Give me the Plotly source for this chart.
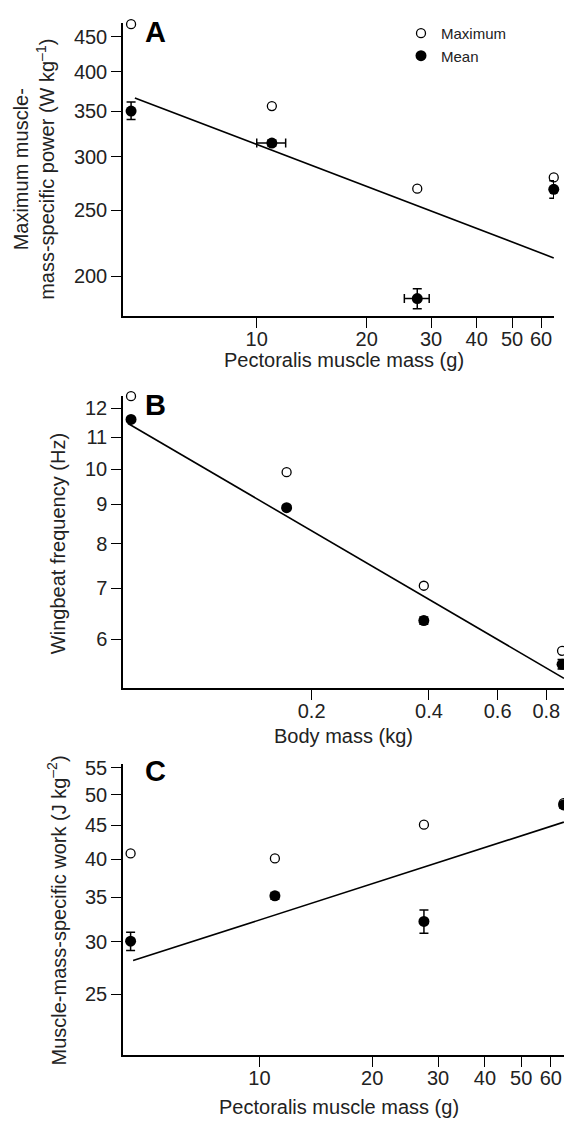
import plotly.graph_objects as go
import math

# ---------------- data ----------------
# Panel A: pectoralis muscle mass (g) vs max muscle-mass-specific power (W/kg)
A_mass = [4.53, 11.0, 27.5, 65.0]
A_max = [470, 356, 269, 279.5]
A_mean = [350, 314, 185.3, 268.4]
A_mean_err_plus = [11, 3, 6.3, 8]
A_mean_err_minus = [10, 3, 6.2, 8]
A_mass_err = [0, 1.0, 2.15, 0]
A_fit_x = [4.64, 65.0]
A_fit_y = [366, 212.7]

# Panel B: body mass (kg) vs wingbeat frequency (Hz)
B_mass = [0.0688, 0.1725, 0.388, 0.878]
B_max = [12.45, 9.91, 7.05, 5.80]
B_mean = [11.61, 8.91, 6.35, 5.57]
B_mean_err = [0.06, 0.06, 0.07, 0.08]
B_fit_x = [0.0676, 0.888]
B_fit_y = [11.47, 5.34]

# Panel C: pectoralis muscle mass (g) vs muscle-mass-specific work (J/kg)
C_mass = [4.53, 11.0, 27.5, 64.9]
C_max = [40.8, 40.1, 45.1, 48.6]
C_mean = [30.06, 35.2, 32.2, 48.3]
C_mean_err = [0.95, 0.4, 1.3, 0.5]
C_fit_x = [4.6, 65.0]
C_fit_y = [28.1, 45.5]

A_xticks = [10, 20, 30, 40, 50, 60]
A_yticks = [200, 250, 300, 350, 400, 450]
B_xticks = [0.2, 0.4, 0.6, 0.8]
B_yticks = [6, 7, 8, 9, 10, 11, 12]
C_xticks = [10, 20, 30, 40, 50, 60]
C_yticks = [25, 30, 35, 40, 45, 50, 55]

# ---------------- layout constants ----------------
W, H = 564, 1121
FONT = "Liberation Sans, Arial, Helvetica, sans-serif"
TICKFS = 20
TITLEFS = 20


def px_x(p):
    return p / W


def px_y(p):
    return 1 - p / H


fig = go.Figure()


def add_panel(n, mass, vmax, vmean, ep, em, ex, fitx, fity):
    xa = "x" if n == 1 else f"x{n}"
    ya = "y" if n == 1 else f"y{n}"
    fig.add_trace(go.Scatter(
        x=fitx, y=fity, mode="lines", xaxis=xa, yaxis=ya,
        line=dict(color="black", width=1.6), showlegend=False,
        hoverinfo="skip", cliponaxis=False))
    err_x = None
    if ex is not None:
        err_x = dict(type="data", array=ex, arrayminus=ex, color="black",
                     thickness=1.5, width=4.5, visible=True)
    fig.add_trace(go.Scatter(
        x=mass, y=vmean, mode="markers", xaxis=xa, yaxis=ya, name="Mean",
        marker=dict(symbol="circle", size=11, color="black",
                    line=dict(color="black", width=0)),
        error_y=dict(type="data", array=ep, arrayminus=em, color="black",
                     thickness=1.5, width=4.5),
        error_x=err_x,
        showlegend=False, cliponaxis=False))
    fig.add_trace(go.Scatter(
        x=mass, y=vmax, mode="markers", xaxis=xa, yaxis=ya, name="Maximum",
        marker=dict(symbol="circle-open", size=9, color="black",
                    line=dict(color="black", width=1.3)),
        showlegend=False, cliponaxis=False))


add_panel(1, A_mass, A_max, A_mean, A_mean_err_plus, A_mean_err_minus,
          A_mass_err, A_fit_x, A_fit_y)
add_panel(2, B_mass, B_max, B_mean, B_mean_err, B_mean_err, None,
          B_fit_x, B_fit_y)
add_panel(3, C_mass, C_max, C_mean, C_mean_err, C_mean_err, None,
          C_fit_x, C_fit_y)

# legend entries (panel A)
fig.add_trace(go.Scatter(
    x=[None], y=[None], mode="markers", name="Maximum",
    marker=dict(symbol="circle-open", size=9, color="black",
                line=dict(color="black", width=1.3)), showlegend=True))
fig.add_trace(go.Scatter(
    x=[None], y=[None], mode="markers", name="Mean",
    marker=dict(symbol="circle", size=11, color="black"), showlegend=True))

axis_common = dict(
    type="log", showline=True, linecolor="black", linewidth=1.5,
    ticks="outside", ticklen=10, tickwidth=1.3, tickcolor="black",
    showgrid=False, zeroline=False, mirror=False,
    tickfont=dict(family=FONT, size=TICKFS, color="#222"),
)
xaxis_common = dict(axis_common, ticklabelstandoff=-6)


def lg(v):
    return math.log10(v)


fig.update_layout(
    width=W, height=H,
    margin=dict(l=0, r=0, t=0, b=0),
    paper_bgcolor="white", plot_bgcolor="white",
    font=dict(family=FONT, color="#222"),
    showlegend=True,
    legend=dict(x=px_x(401), y=px_y(9), xanchor="left", yanchor="top",
                bgcolor="rgba(0,0,0,0)", font=dict(family=FONT, size=15),
                itemwidth=30, tracegroupgap=0),
    xaxis=dict(xaxis_common, domain=[px_x(123), px_x(554)],
               range=[lg(4.305), lg(65.1)], tickvals=A_xticks,
               ticktext=[str(v) for v in A_xticks], anchor="y"),
    yaxis=dict(axis_common, domain=[px_y(310.7), px_y(15)],
               range=[lg(174.4), lg(472)], tickvals=A_yticks,
               ticktext=[str(v) for v in A_yticks], anchor="x"),
    xaxis2=dict(xaxis_common, domain=[px_x(123), 1.0],
                range=[-1.183, -0.0515], tickvals=B_xticks,
                ticktext=[str(v) for v in B_xticks], anchor="y2"),
    yaxis2=dict(axis_common, domain=[px_y(685), px_y(390.7)],
                range=[0.7148, 1.0955], tickvals=B_yticks,
                ticktext=[str(v) for v in B_yticks], anchor="x2"),
    xaxis3=dict(xaxis_common, domain=[px_x(123), 1.0],
                range=[0.6358, 1.8133], tickvals=C_xticks,
                ticktext=[str(v) for v in C_xticks], anchor="y3"),
    yaxis3=dict(axis_common, domain=[px_y(1054.3), px_y(761.7)],
                range=[1.3064, 1.7454], tickvals=C_yticks,
                ticktext=[str(v) for v in C_yticks], anchor="x3"),
)

annotations = []
# panel letters
for letter, ytop in [("A", 6), ("B", 382), ("C", 750)]:
    annotations.append(dict(
        text=f"<b>{letter}</b>", x=px_x(143), y=px_y(ytop), xref="paper",
        yref="paper", xanchor="left", yanchor="top", showarrow=False,
        font=dict(family=FONT, size=29, color="black")))

# y titles
annotations.append(dict(
    text="Maximum muscle-<br>mass-specific power (W kg<sup>–1</sup>)",
    x=px_x(34), y=px_y(163), xref="paper", yref="paper", textangle=-90,
    xanchor="center", yanchor="middle", showarrow=False,
    font=dict(family=FONT, size=TITLEFS, color="#222")))
annotations.append(dict(
    text="Wingbeat frequency (Hz)",
    x=px_x(58), y=px_y(540), xref="paper", yref="paper", textangle=-90,
    xanchor="center", yanchor="middle", showarrow=False,
    font=dict(family=FONT, size=TITLEFS, color="#222")))
annotations.append(dict(
    text="Muscle-mass-specific work (J kg<sup>–2</sup>)",
    x=px_x(57), y=px_y(909), xref="paper", yref="paper", textangle=-90,
    xanchor="center", yanchor="middle", showarrow=False,
    font=dict(family=FONT, size=TITLEFS, color="#222")))

# x titles
annotations.append(dict(
    text="Pectoralis muscle mass (g)", x=px_x(344), y=px_y(355),
    xref="paper", yref="paper", xanchor="center", yanchor="middle",
    showarrow=False, font=dict(family=FONT, size=TITLEFS, color="#222")))
annotations.append(dict(
    text="Body mass (kg)", x=px_x(343), y=px_y(733),
    xref="paper", yref="paper", xanchor="center", yanchor="middle",
    showarrow=False, font=dict(family=FONT, size=TITLEFS, color="#222")))
annotations.append(dict(
    text="Pectoralis muscle mass (g)", x=px_x(339), y=px_y(1107),
    xref="paper", yref="paper", xanchor="center", yanchor="middle",
    showarrow=False, font=dict(family=FONT, size=TITLEFS, color="#222")))

fig.update_layout(annotations=annotations)

fig.write_html("out.html")
